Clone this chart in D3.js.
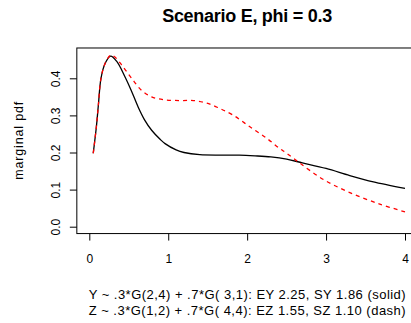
<!doctype html>
<html>
  <head>
    <script src="https://cdn.jsdelivr.net/npm/d3@7/dist/d3.min.js"></script>
    <style>
    body { margin: 0; background: #fff; overflow: hidden; }
    text { font-family: "Liberation Sans", Arial, sans-serif; fill: #000; }
    </style>
  </head>
  <body>
    <svg width="411" height="323"></svg>
    <script>
      // marginal pdf of Y (solid) and Z (dashed)
      var yX = [0.05, 0.09, 0.115, 0.148, 0.2, 0.27, 0.35, 0.45, 0.53, 0.62, 0.7, 0.79, 0.9, 0.96, 1.1, 1.2, 1.4, 1.7, 1.9, 2.1, 2.3, 2.5, 2.7, 3.0, 3.3, 3.6, 4.0];
      var yPdf = [0.198, 0.27, 0.328, 0.4, 0.44, 0.46, 0.445, 0.405, 0.368, 0.322, 0.288, 0.26, 0.235, 0.224, 0.207, 0.2, 0.194, 0.193, 0.193, 0.191, 0.188, 0.182, 0.172, 0.157, 0.138, 0.121, 0.103];
      var zX = [0.05, 0.09, 0.115, 0.148, 0.2, 0.27, 0.32, 0.41, 0.536, 0.66, 0.79, 0.95, 1.15, 1.32, 1.49, 1.65, 1.82, 2.03, 2.25, 2.41, 2.5, 2.67, 2.96, 3.3, 3.68, 4.0];
      var zPdf = [0.198, 0.27, 0.328, 0.4, 0.44, 0.462, 0.458, 0.436, 0.4, 0.368, 0.35, 0.342, 0.34, 0.34, 0.333, 0.319, 0.301, 0.27, 0.238, 0.211, 0.198, 0.171, 0.128, 0.092, 0.061, 0.04];
      var xTicks = [0, 1, 2, 3, 4];
      var yTicks = [0.0, 0.1, 0.2, 0.3, 0.4];
      var title = "Scenario E, phi = 0.3";
      var yLabel = "marginal pdf";
      var notes = [
        "Y ~ .3*G(2,4) + .7*G( 3,1): EY 2.25, SY 1.86 (solid)",
        "Z ~ .3*G(1,2) + .7*G( 4,4): EZ 1.55, SZ 1.10 (dash)"
      ];

      var svg = d3.select("svg");
      var x = d3.scaleLinear().domain([0, 4]).range([89.3, 405]);
      var y = d3.scaleLinear().domain([0, 0.4]).range([226.7, 78.3]);

      // R-style 4% padding round the data range
      var boxL = x(-0.158), boxR = x(4.158), boxT = y(0.4817), boxB = y(-0.0185);
      var midX = (boxL + boxR) / 2;

      var line = d3.line()
        .x(d => x(d[0]))
        .y(d => y(d[1]))
        .curve(d3.curveCatmullRom.alpha(0.5));

      svg.append("path")
        .datum(d3.zip(yX, yPdf))
        .attr("d", line)
        .attr("fill", "none")
        .attr("stroke", "#000")
        .attr("stroke-width", 1.3);

      svg.append("path")
        .datum(d3.zip(zX, zPdf))
        .attr("d", line)
        .attr("fill", "none")
        .attr("stroke", "#ff0000")
        .attr("stroke-width", 1.3)
        .attr("stroke-dasharray", "4,4");

      svg.append("rect")
        .attr("x", boxL).attr("y", boxT)
        .attr("width", boxR - boxL).attr("height", boxB - boxT)
        .attr("fill", "none").attr("stroke", "#000").attr("stroke-width", 1);

      var xAxis = svg.append("g")
        .attr("transform", `translate(0,${boxB})`)
        .call(d3.axisBottom(x).tickValues(xTicks).tickFormat(d3.format("d")).tickSize(7).tickPadding(14));
      var yAxis = svg.append("g")
        .attr("transform", `translate(${boxL},0)`)
        .call(d3.axisLeft(y).tickValues(yTicks).tickFormat(d3.format(".1f")).tickSize(7).tickPadding(0));

      [xAxis, yAxis].forEach(g => {
        g.select(".domain").remove();
        g.selectAll("line").attr("stroke", "#000");
        g.selectAll("text").attr("font-size", 12).style("font-family", "Liberation Sans, Arial, sans-serif");
      });

      yAxis.selectAll(".tick text")
        .attr("x", null)
        .attr("text-anchor", "middle")
        .attr("transform", "translate(-21,0) rotate(-90)")
        .attr("dy", "0.35em");

      svg.append("text")
        .attr("x", midX).attr("y", 21.7)
        .attr("text-anchor", "middle")
        .attr("font-size", 18).attr("font-weight", "bold")
        .attr("textLength", 170).attr("lengthAdjust", "spacing")
        .text(title);

      svg.append("text")
        .attr("transform", `translate(23,${(boxT + boxB) / 2}) rotate(-90)`)
        .attr("text-anchor", "middle")
        .attr("font-size", 12.5)
        .attr("textLength", 78).attr("lengthAdjust", "spacing")
        .text(yLabel);

      svg.selectAll("text.note")
        .data(notes)
        .enter()
        .append("text")
          .attr("class", "note")
          .attr("x", midX)
          .attr("y", (d, i) => 298.5 + i * 16)
          .attr("text-anchor", "middle")
          .attr("font-size", 13)
          .attr("textLength", 317).attr("lengthAdjust", "spacing")
          .text(d => d);
    </script>
  </body>
</html>
